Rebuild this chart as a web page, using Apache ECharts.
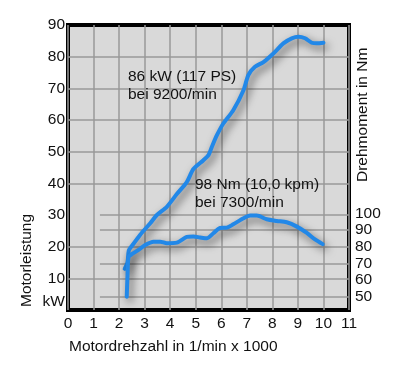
<!DOCTYPE html>
<html>
<head>
<meta charset="utf-8">
<script src="https://cdn.jsdelivr.net/npm/echarts@6/dist/echarts.min.js"></script>
<style>
html,body{margin:0;padding:0;background:#fff;}
#chart{width:400px;height:369px;}
</style>
</head>
<body>
<div id="chart"></div>
<script>
// rpm (x1000) / power in kW
var powerRpm = [2.22, 2.33, 2.38, 2.50, 2.82, 3.22, 3.48, 3.87, 4.26, 4.65, 4.91, 5.30, 5.50, 5.63, 5.83, 6.08, 6.47, 6.87, 7.06, 7.32, 7.65, 8.04, 8.43, 8.76, 9.02, 9.28, 9.54, 9.74, 10.0];
var powerKw  = [13.0, 15.0, 18.8, 20.2, 23.7, 27.4, 30.0, 32.6, 36.6, 40.4, 44.5, 47.3, 48.9, 51.5, 55.2, 58.9, 63.1, 69.4, 74.2, 76.8, 78.3, 81.0, 84.2, 85.8, 86.3, 85.8, 84.4, 84.2, 84.4];
// rpm (x1000) / torque in Nm
var torqueRpm = [2.30, 2.33, 2.37, 2.51, 2.76, 3.02, 3.35, 3.61, 3.87, 4.26, 4.65, 4.91, 5.17, 5.43, 5.69, 5.95, 6.22, 6.47, 6.87, 7.13, 7.39, 7.78, 8.17, 8.56, 8.96, 9.35, 9.67, 9.97];
var torqueNm  = [50, 63, 73.8, 75.6, 78, 81, 83, 83, 82.1, 82.4, 85.8, 86.1, 85.5, 85, 88, 91.2, 91.4, 93.4, 97, 98.6, 98.6, 96.4, 95.4, 94.6, 92, 88.2, 84.3, 81.5];

var xTicks = [0,1,2,3,4,5,6,7,8,9,10,11];
var kwTicks = [0,10,20,30,40,50,60,70,80,90];
var nmTicks = [50,60,70,80,90,100];
var kwFullGrid = [10,20,40,50,60,70,80];
var partialGrid = [30];          // kW line starting right of the axis
var nmPartialGrid = [50,70,90]; // torque grid lines
var gridStartRpm = 1.25;

var labelPower = ['86 kW (117 PS)', 'bei 9200/min'];
var labelTorque = ['98 Nm (10,0 kpm)', 'bei 7300/min'];

function zip(a, b){ return a.map(function(v,i){ return [v, b[i]]; }); }

var FONT = '"Liberation Sans", Arial, Helvetica, sans-serif';
var FS = 15.5;
var gridLineStyle = {color:'#999999', width:1.5, type:'solid'};

function hLines(vals, x0){
  return vals.map(function(v){ return [{coord:[x0, v]}, {coord:[11, v]}]; });
}

var chart = echarts.init(document.getElementById('chart'), null, {renderer:'canvas'});
var lineStyle = {width:4, color:'#2288e8', shadowColor:'rgba(0,0,0,0.6)', shadowBlur:8, shadowOffsetX:3, shadowOffsetY:4, cap:'round', join:'round'};

chart.setOption({
  animation:false,
  backgroundColor:'#ffffff',
  grid:{left:68, right:51, top:25, bottom:59, show:true, backgroundColor:'#d9d9d9', borderColor:'#000', borderWidth:4, z:0},
  xAxis:{
    type:'value', min:0, max:11, interval:1,
    axisLine:{show:false}, axisTick:{show:false},
    splitLine:{show:true, lineStyle:gridLineStyle},
    axisLabel:{fontSize:FS, color:'#111', fontFamily:FONT, margin:6,
      formatter:function(v){ return xTicks.indexOf(v) >= 0 ? String(v) : ''; }}
  },
  yAxis:[{
    type:'value', min:0, max:90, interval:10,
    axisLine:{show:false}, axisTick:{show:false},
    splitLine:{show:false},
    axisLabel:{fontSize:FS, color:'#111', fontFamily:FONT, margin:3,
      formatter:function(v){ if (v === 0) return '{k|kW}'; return kwTicks.indexOf(v) >= 0 ? String(v) : ''; },
      rich:{k:{fontSize:FS, color:'#111', fontFamily:FONT, padding:[0,0,16,0]}}
    }
  },{
    type:'value', min:42, max:212.9, position:'right',
    axisLine:{show:false}, axisTick:{show:false},
    splitLine:{show:false},
    axisLabel:{fontSize:FS, color:'#111', fontFamily:FONT, margin:6, customValues:nmTicks,
      formatter:function(v){ return String(v); }}
  }],
  graphic:[
    {type:'text', x:27, y:307, rotation:Math.PI/2, style:{text:'Motorleistung', fontSize:FS, fontFamily:FONT, fill:'#111', align:'left', verticalAlign:'middle'}},
    {type:'text', x:363, y:182, rotation:Math.PI/2, style:{text:'Drehmoment in Nm', fontSize:FS, fontFamily:FONT, fill:'#111', align:'left', verticalAlign:'middle'}},
    {type:'text', x:69, y:347, style:{text:'Motordrehzahl in 1/min x 1000', fontSize:FS, fontFamily:FONT, fill:'#111', align:'left', verticalAlign:'middle'}},
    {type:'text', x:128, y:68, z:10, style:{text:labelPower.join('\n'), fontSize:FS, lineHeight:18, fontFamily:FONT, fill:'#111', align:'left', verticalAlign:'top'}},
    {type:'text', x:195, y:176, z:10, style:{text:labelTorque.join('\n'), fontSize:FS, lineHeight:17.5, fontFamily:FONT, fill:'#111', align:'left', verticalAlign:'top'}}
  ],
  series:[{
    name:'Motorleistung', type:'line', yAxisIndex:0, smooth:0.25, showSymbol:false, symbol:'none',
    data:zip(powerRpm, powerKw), lineStyle:lineStyle, z:5,
    markLine:{silent:true, symbol:'none', label:{show:false}, lineStyle:gridLineStyle, z:1,
      data:hLines(kwFullGrid, 0).concat(hLines(partialGrid, gridStartRpm))}
  },{
    name:'Drehmoment', type:'line', yAxisIndex:1, smooth:0.25, showSymbol:false, symbol:'none',
    data:zip(torqueRpm, torqueNm), lineStyle:lineStyle, z:5,
    markLine:{silent:true, symbol:'none', label:{show:false}, lineStyle:gridLineStyle, z:1,
      data:hLines(nmPartialGrid, gridStartRpm)}
  }]
});
</script>
</body>
</html>
